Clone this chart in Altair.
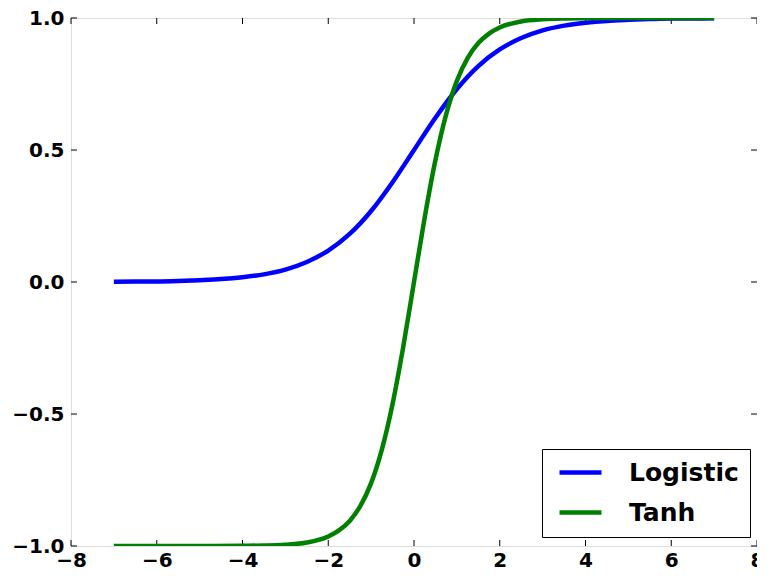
import altair as alt
import pandas as pd

# values
logistic_x = [-7, -6.5, -6, -5.5, -5, -4.5, -4, -3.5, -3, -2.5, -2, -1.5, -1, -0.5, 0,
              0.5, 1, 1.5, 2, 2.5, 3, 3.5, 4, 4.5, 5, 5.5, 6, 6.5, 7]
logistic_y = [0.001, 0.0015, 0.002, 0.004, 0.007, 0.011, 0.018, 0.029, 0.047, 0.076, 0.119,
              0.182, 0.269, 0.378, 0.5, 0.622, 0.731, 0.818, 0.881, 0.924, 0.953, 0.971,
              0.982, 0.989, 0.993, 0.996, 0.998, 0.998, 0.999]
tanh_x = [-7, -6, -5, -4, -3.5, -3, -2.5, -2, -1.75, -1.5, -1.25, -1, -0.75, -0.5, -0.25, 0,
          0.25, 0.5, 0.75, 1, 1.25, 1.5, 1.75, 2, 2.5, 3, 3.5, 4, 5, 6, 7]
tanh_y = [-1.0, -1.0, -1.0, -0.999, -0.998, -0.995, -0.987, -0.964, -0.941, -0.905, -0.848,
          -0.762, -0.635, -0.462, -0.245, 0.0, 0.245, 0.462, 0.635, 0.762, 0.848, 0.905,
          0.941, 0.964, 0.987, 0.995, 0.998, 0.999, 1.0, 1.0, 1.0]
series_names = ["Logistic", "Tanh"]
series_colors = ["#0000ff", "#008000"]
x_ticks = [-8, -6, -4, -2, 0, 2, 4, 6, 8]
y_ticks = [-1.0, -0.5, 0.0, 0.5, 1.0]

W, H = 686, 528
FONT = "DejaVu Sans"

df = pd.concat([
    pd.DataFrame({"x": logistic_x, "y": logistic_y, "s": series_names[0], "o": range(len(logistic_x))}),
    pd.DataFrame({"x": tanh_x, "y": tanh_y, "s": series_names[1], "o": range(len(tanh_x))}),
])

xs = alt.Scale(domain=[-8, 8], nice=False, zero=False)
ys = alt.Scale(domain=[-1, 1], nice=False, zero=False)

lines = alt.Chart(df).mark_line(strokeWidth=4.5, interpolate="monotone", clip=True).encode(
    x=alt.X("x:Q", scale=xs, axis=alt.Axis(values=x_ticks, format="d", title=None, ticks=False,
                                           domain=False, grid=False, labelPadding=4,
                                           labelFontSize=20, labelFontWeight="bold", labelFont=FONT,
                                           labelColor="black", labelFlush=False, labelOverlap=False)),
    y=alt.Y("y:Q", scale=ys, axis=alt.Axis(values=y_ticks, format=".1f", title=None, ticks=False,
                                           domain=False, grid=False, labelPadding=7,
                                           labelFontSize=20, labelFontWeight="bold", labelFont=FONT,
                                           labelColor="black", labelFlush=False, labelOverlap=False)),
    color=alt.Color("s:N", scale=alt.Scale(domain=series_names, range=series_colors),
                    legend=alt.Legend(title=None, orient="none", legendX=471, legendY=431,
                                      strokeColor="black", fillColor="white", padding=11,
                                      cornerRadius=0, symbolType="M-0.6,0H3.6",
                                      symbolStrokeWidth=4.5, symbolSize=400,
                                      labelFontSize=25, labelFontWeight="bold",
                                      labelFont=FONT, labelColor="black", labelOffset=51,
                                      rowPadding=14)),
    order="o:Q",
)

tx = pd.DataFrame({"t": x_ticks})
ty = pd.DataFrame({"t": y_ticks})
TL = 6
tick_bottom = alt.Chart(tx).mark_rule(color="black", strokeWidth=1).encode(
    x=alt.X("t:Q", scale=xs), y=alt.value(H), y2=alt.value(H - TL))
tick_top = alt.Chart(tx).mark_rule(color="black", strokeWidth=1).encode(
    x=alt.X("t:Q", scale=xs), y=alt.value(0), y2=alt.value(TL))
tick_left = alt.Chart(ty).mark_rule(color="black", strokeWidth=1).encode(
    y=alt.Y("t:Q", scale=ys), x=alt.value(0), x2=alt.value(TL))
tick_right = alt.Chart(ty).mark_rule(color="black", strokeWidth=1).encode(
    y=alt.Y("t:Q", scale=ys), x=alt.value(W), x2=alt.value(W - TL))

chart = alt.layer(tick_bottom, tick_top, tick_left, tick_right, lines).properties(
    width=W, height=H,
    autosize=alt.AutoSizeParams(type="none"),
    padding={"left": 63, "top": 10, "right": 0, "bottom": 25},
).configure_view(stroke="black", strokeWidth=1.5).configure(background="white")

chart.save("out.html", embed_options={"renderer": "svg", "actions": False})
